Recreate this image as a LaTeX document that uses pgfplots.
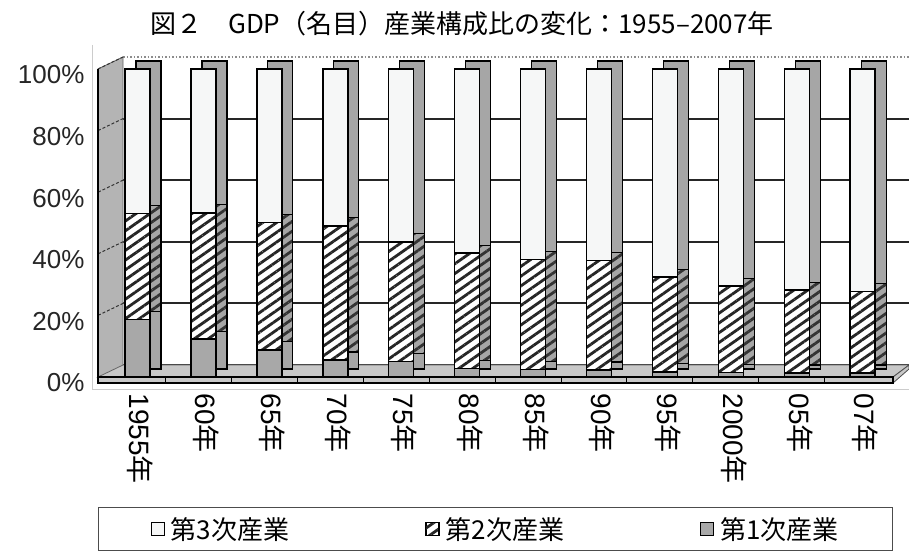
\documentclass[border=0pt]{standalone}
\usepackage{fontspec}
\setmainfont{Liberation Sans}
\newfontfamily\jp{Noto Sans CJK JP}
\usepackage{pgfplots}
\usepackage{pgfplotstable}
\pgfplotsset{compat=1.18}
\usetikzlibrary{patterns.meta}
\definecolor{side}{HTML}{A6A6A6}
\definecolor{prim}{HTML}{A8A8A8}
\definecolor{terc}{HTML}{F6F7F7}
\definecolor{floorc}{HTML}{C8C8C8}
\definecolor{wallc}{HTML}{B4B4B4}

% shares (%) : primary, secondary, tertiary
\pgfplotstableread{
x p s t
0 18.7 34.4 46.9
1 12.3 41.0 46.7
2 8.8 41.3 49.9
3 5.5 43.6 50.9
4 5.0 38.9 56.1
5 2.8 37.4 59.8
6 2.5 35.7 61.8
7 2.3 35.5 62.2
8 1.7 30.7 67.6
9 1.5 28.0 70.5
10 1.3 26.9 71.8
11 1.3 26.4 72.3
}\datatable

\pgfplotsset{base/.style={width=795pt,height=308pt,scale only axis,
  xmin=-0.6,xmax=11.46,ymin=0,ymax=100,ybar stacked,bar width=25pt,
  clip=false,anchor=south west}}

\begin{document}
\begin{tikzpicture}[x=1pt,y=1pt]
\path[use as bounding box] (-98,-176) rectangle (811,377);
% frame
\draw[black!20, line width=1pt] (-6,332) -- (-6,-13) -- (811,-13);
% back wall grid
\foreach \k in {0,20,40,60,80}
  \draw[black!85, line width=2pt] (25,{12+3.08*\k}) -- (811,{12+3.08*\k});
\draw[black!45, line width=1.5pt, dotted] (25,320) -- (811,320);
% left wall
\draw[fill=wallc, draw=black!60, line width=0.8pt] (0,-6) -- (0,308) -- (25,320) -- (25,10) -- cycle;
\foreach \k in {20,40,60,80,100}
  \draw[black!80, densely dashed, line width=1pt] (0,{3.08*\k}) -- (25,{12+3.08*\k});
\draw[black, line width=2pt] (0,-6) -- (0,308);
% floor
\draw[fill=floorc, draw=black!60, line width=0.8pt] (0,0) -- (25,12) -- (811,12) -- (795,0) -- cycle;
\draw[fill=floorc, draw=black!70, line width=0.8pt] (795,-6) -- (811,8) -- (811,12) -- (795,0) -- cycle;
\draw[fill=floorc, draw=black, line width=1.2pt] (0,-6) rectangle (795,0);
\foreach \i in {0,...,10}
  \draw[black, line width=1pt] ({67.5+65.92*\i},0) -- ++(0,-6);

% side / top faces of the bars
\begin{axis}[base, at={(11pt,8pt)}, hide axis]
\addplot[fill=side, draw=black, line width=1.2pt] table[x=x,y=p]{\datatable};
\addplot[draw=black, line width=1.2pt, preaction={fill=side},
  pattern={Lines[angle=35,distance=8pt,line width=2.8pt]}, pattern color=black!80]
  table[x=x,y=s]{\datatable};
\addplot[fill=side, draw=black, line width=1.2pt] table[x=x,y=t]{\datatable};
\end{axis}

% front faces
\begin{axis}[base, at={(0pt,0pt)},
  axis line style={draw=none}, major tick length=0pt,
  xtick={0,...,11},
  xticklabels={1955{\jp 年},60{\jp 年},65{\jp 年},70{\jp 年},75{\jp 年},80{\jp 年},85{\jp 年},90{\jp 年},95{\jp 年},2000{\jp 年},05{\jp 年},07{\jp 年}},
  ytick={0,20,40,60,80,100},
  yticklabels={0\%,20\%,40\%,60\%,80\%,100\%},
  yticklabel style={font=\fontsize{26}{30}\selectfont, text=black!85, xshift=-10pt, yshift=-6pt},
  xticklabel style={font=\fontsize{28}{32}\selectfont, yshift=-13pt, xshift=3pt, rotate=-90, anchor=west},
  legend columns=3, reverse legend,
  legend style={at={(axis description cs:0,-0.4221)}, anchor=north west,
    draw=black!70, line width=1pt, inner xsep=52pt, inner ysep=8pt,
    font=\jp\fontsize{26}{30}\selectfont,
    /tikz/every even column/.append style={column sep=134pt}},
  legend image code/.code={\draw[#1, line width=1.2pt] (0pt,-6.5pt) rectangle (13pt,6.5pt);\path (17pt,0pt);}
]
\addplot[fill=prim, draw=black, line width=1.5pt] table[x=x,y=p]{\datatable};
\addlegendentry{第1次産業}
\addplot[draw=black, line width=1.5pt, preaction={fill=white},
  pattern={Lines[angle=35,distance=8pt,line width=2.8pt]}, pattern color=black!85]
  table[x=x,y=s]{\datatable};
\addlegendentry{第2次産業}
\addplot[fill=terc, draw=black, line width=1.5pt] table[x=x,y=t]{\datatable};
\addlegendentry{第3次産業}
\end{axis}

\node[font=\jp\fontsize{26}{30}\selectfont] at (364,353) {図２　GDP（名目）産業構成比の変化：1955–2007年};
\end{tikzpicture}
\end{document}
